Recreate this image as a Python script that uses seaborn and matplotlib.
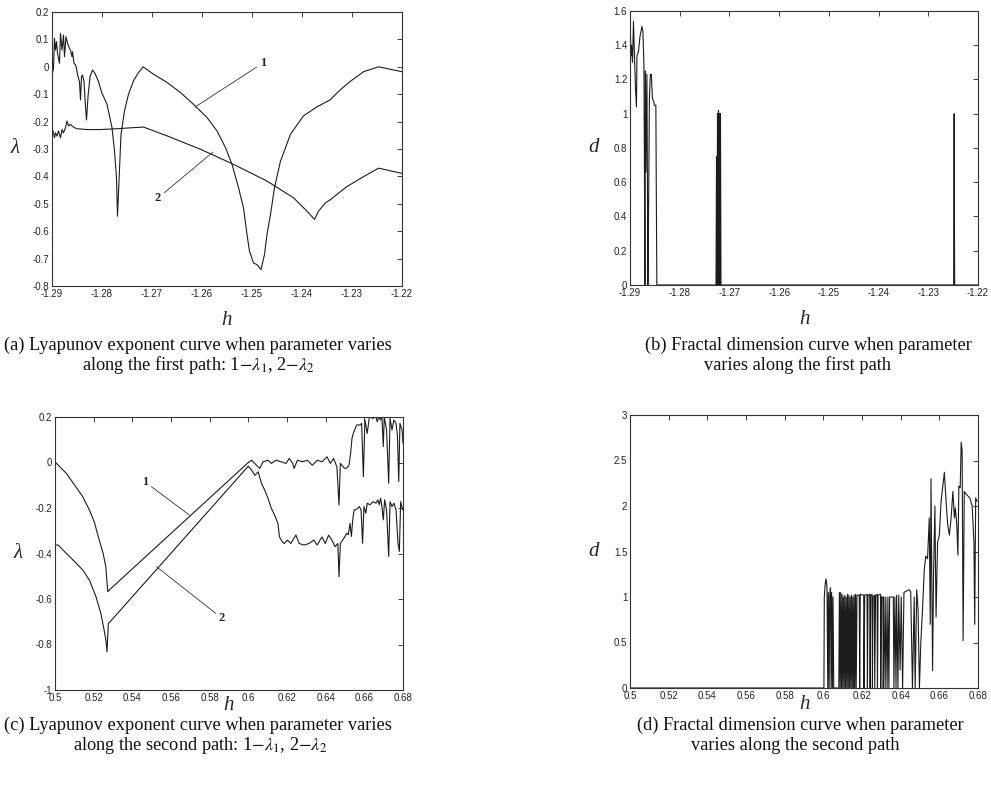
import numpy as np
import matplotlib
matplotlib.use("Agg")
import matplotlib.pyplot as plt
from matplotlib.ticker import FuncFormatter
import seaborn as sns

# (a) Lyapunov exponents, first path
a_h1 = [-1.2900, -1.2897, -1.2895, -1.2893, -1.2891, -1.2889, -1.2885, -1.2883, -1.2880, -1.2877,
        -1.2875, -1.2872, -1.2869, -1.2865, -1.2863, -1.2860, -1.2859, -1.2856, -1.2853, -1.2851,
        -1.2848, -1.2845, -1.2843, -1.2841, -1.2839, -1.2836, -1.2833, -1.2831, -1.2828, -1.2824,
        -1.2819, -1.2814, -1.2807, -1.2801, -1.2790, -1.2780, -1.2775, -1.2771, -1.2769, -1.2766,
        -1.2762, -1.2755, -1.2747, -1.2737, -1.2727, -1.2718, -1.2697, -1.2670, -1.2643, -1.2617,
        -1.2590, -1.2570, -1.2553, -1.2540, -1.2527, -1.2517, -1.2510, -1.2505, -1.2497, -1.2490,
        -1.2482, -1.2475, -1.2470, -1.2463, -1.2455, -1.2443, -1.2423, -1.2397, -1.2370, -1.2344,
        -1.2324, -1.2304, -1.2277, -1.2247, -1.2200]
a_lam1 = [-0.030, -0.006, 0.104, 0.061, 0.092, 0.049, 0.013, 0.122, 0.061, 0.116,
          0.037, 0.110, 0.086, 0.067, 0.061, 0.037, 0.055, 0.013, 0.007, -0.006,
          -0.036, -0.054, -0.121, -0.036, -0.030, -0.054, -0.146, -0.194, -0.109, -0.036,
          -0.012, -0.024, -0.054, -0.092, -0.137, -0.222, -0.307, -0.405, -0.545, -0.417,
          -0.246, -0.161, -0.100, -0.051, -0.021, 0.000, -0.027, -0.057, -0.094, -0.137,
          -0.185, -0.234, -0.295, -0.356, -0.441, -0.515, -0.612, -0.673, -0.716, -0.722,
          -0.740, -0.685, -0.612, -0.539, -0.441, -0.344, -0.246, -0.179, -0.146, -0.121,
          -0.085, -0.054, -0.018, 0.000, -0.018]
a_h2 = [-1.2900, -1.2898, -1.2895, -1.2893, -1.2890, -1.2887, -1.2883, -1.2880, -1.2877, -1.2873,
        -1.2870, -1.2867, -1.2863, -1.2860, -1.2855, -1.2850, -1.2830, -1.2803, -1.2770, -1.2737,
        -1.2717, -1.2670, -1.2603, -1.2537, -1.2470, -1.2417, -1.2390, -1.2375, -1.2367, -1.2353,
        -1.2344, -1.2311, -1.2277, -1.2247, -1.2200]
a_lam2 = [-0.240, -0.234, -0.259, -0.241, -0.253, -0.234, -0.259, -0.229, -0.241, -0.222,
          -0.198, -0.216, -0.210, -0.216, -0.222, -0.226, -0.229, -0.229, -0.226, -0.222,
          -0.220, -0.252, -0.301, -0.356, -0.417, -0.478, -0.527, -0.557, -0.527, -0.496,
          -0.486, -0.438, -0.401, -0.370, -0.389]

# (b) fractal dimension, first path
b_h = [-1.2900, -1.2898, -1.2897, -1.2895, -1.2893, -1.2891, -1.2889, -1.2887, -1.2886, -1.2883,
       -1.2880, -1.2876, -1.2874, -1.2872, -1.2871, -1.2870, -1.2869, -1.2868, -1.2866, -1.2865,
       -1.2864, -1.2863, -1.2861, -1.2859, -1.2857, -1.2855, -1.2852, -1.2851, -1.2848, -1.2847,
       -1.2846, -1.2727, -1.2726, -1.2725, -1.2724, -1.2723, -1.2722, -1.2721, -1.2720, -1.2719,
       -1.2718, -1.2717, -1.2249, -1.2248, -1.2247, -1.2200]
b_d = [1.56, 1.34, 1.40, 1.30, 1.54, 1.34, 1.15, 1.04, 1.34, 1.36,
       1.45, 1.51, 1.48, 1.29, 0.70, 0.00, 1.25, 0.66, 1.23, 0.62,
       0.00, 0.29, 1.09, 1.23, 1.23, 1.09, 1.07, 1.05, 1.05, 0.51,
       0.00, 0.00, 0.75, 0.00, 1.00, 0.00, 1.02, 0.00, 1.00, 0.00,
       1.00, 0.00, 0.00, 1.00, 0.00, 0.00]

# (c) Lyapunov exponents, second path
c_h1 = [0.5000, 0.5017, 0.5059, 0.5102, 0.5144, 0.5178, 0.5203, 0.5229, 0.5249, 0.5263,
        0.5268, 0.5273, 0.5280, 0.6000, 0.6017, 0.6042, 0.6059, 0.6076, 0.6102, 0.6119,
        0.6144, 0.6169, 0.6195, 0.6212, 0.6229, 0.6237, 0.6254, 0.6280, 0.6305, 0.6331,
        0.6356, 0.6381, 0.6407, 0.6424, 0.6441, 0.6458, 0.6469, 0.6476, 0.6497, 0.6509,
        0.6521, 0.6529, 0.6536, 0.6543, 0.6560, 0.6577, 0.6586, 0.6595, 0.6603, 0.6615,
        0.6626, 0.6643, 0.6660, 0.6667, 0.6674, 0.6684, 0.6691, 0.6698, 0.6703, 0.6715,
        0.6726, 0.6733, 0.6743, 0.6753, 0.6764, 0.6771, 0.6778, 0.6784, 0.6795, 0.6800]
c_lam1 = [0.003, -0.012, -0.048, -0.100, -0.151, -0.209, -0.261, -0.341, -0.400, -0.458,
          -0.517, -0.568, -0.561, 0.000, 0.010, -0.012, -0.026, 0.003, 0.010, -0.004,
          0.010, 0.003, -0.004, 0.018, -0.004, -0.026, 0.010, 0.003, 0.010, -0.012,
          0.010, 0.003, 0.025, -0.004, 0.018, -0.019, -0.187, -0.004, -0.025, -0.025,
          -0.011, 0.040, 0.106, 0.128, 0.165, 0.165, 0.172, -0.062, 0.187, 0.128,
          0.200, 0.194, 0.200, 0.179, 0.200, 0.187, 0.200, 0.070, 0.200, 0.143,
          -0.091, 0.194, 0.143, 0.187, 0.172, 0.121, -0.084, 0.172, 0.143, 0.084]
c_h2 = [0.5000, 0.5017, 0.5059, 0.5102, 0.5144, 0.5178, 0.5212, 0.5237, 0.5254, 0.5263,
        0.5269, 0.5276, 0.5285, 0.6000, 0.6017, 0.6034, 0.6051, 0.6068, 0.6085, 0.6102,
        0.6119, 0.6136, 0.6153, 0.6161, 0.6175, 0.6186, 0.6203, 0.6220, 0.6246, 0.6263,
        0.6288, 0.6314, 0.6339, 0.6356, 0.6381, 0.6398, 0.6415, 0.6432, 0.6449, 0.6463,
        0.6469, 0.6476, 0.6500, 0.6509, 0.6517, 0.6526, 0.6533, 0.6540, 0.6547, 0.6555,
        0.6566, 0.6574, 0.6583, 0.6591, 0.6598, 0.6608, 0.6615, 0.6629, 0.6646, 0.6660,
        0.6670, 0.6677, 0.6684, 0.6691, 0.6698, 0.6705, 0.6715, 0.6726, 0.6733, 0.6743,
        0.6753, 0.6764, 0.6774, 0.6781, 0.6788, 0.6798]
c_lam2 = [-0.363, -0.363, -0.400, -0.436, -0.473, -0.517, -0.590, -0.663, -0.736, -0.780,
          -0.832, -0.707, -0.700, -0.016, -0.034, -0.056, -0.041, -0.092, -0.122, -0.158,
          -0.202, -0.231, -0.268, -0.327, -0.348, -0.356, -0.341, -0.356, -0.319, -0.356,
          -0.363, -0.356, -0.341, -0.363, -0.327, -0.356, -0.319, -0.341, -0.370, -0.356,
          -0.502, -0.356, -0.325, -0.311, -0.318, -0.267, -0.325, -0.252, -0.208, -0.208,
          -0.201, -0.194, -0.208, -0.355, -0.194, -0.223, -0.179, -0.186, -0.172, -0.179,
          -0.164, -0.186, -0.157, -0.194, -0.252, -0.164, -0.208, -0.413, -0.172, -0.194,
          -0.179, -0.208, -0.355, -0.391, -0.172, -0.208]

# (d) fractal dimension, second path
d_h = [0.5000, 0.5002, 0.6003, 0.6005, 0.6010, 0.6014, 0.6019, 0.6023, 0.6026, 0.6030,
       0.6033, 0.6037, 0.6040, 0.6043, 0.6047, 0.6050, 0.6054, 0.6080, 0.6083, 0.6087,
       0.6090, 0.6094, 0.6097, 0.6101, 0.6104, 0.6108, 0.6111, 0.6115, 0.6118, 0.6122,
       0.6125, 0.6129, 0.6132, 0.6136, 0.6139, 0.6143, 0.6146, 0.6150, 0.6153, 0.6157,
       0.6160, 0.6163, 0.6167, 0.6170, 0.6174, 0.6186, 0.6188, 0.6191, 0.6209, 0.6210,
       0.6214, 0.6226, 0.6228, 0.6231, 0.6240, 0.6242, 0.6245, 0.6252, 0.6254, 0.6257,
       0.6264, 0.6266, 0.6270, 0.6278, 0.6280, 0.6283, 0.6296, 0.6297, 0.6301, 0.6308,
       0.6310, 0.6313, 0.6320, 0.6323, 0.6330, 0.6334, 0.6339, 0.6343, 0.6362, 0.6365,
       0.6370, 0.6376, 0.6379, 0.6386, 0.6390, 0.6397, 0.6403, 0.6410, 0.6417, 0.6443,
       0.6452, 0.6461, 0.6470, 0.6475, 0.6483, 0.6490, 0.6497, 0.6504, 0.6513, 0.6522,
       0.6530, 0.6539, 0.6548, 0.6553, 0.6557, 0.6562, 0.6565, 0.6570, 0.6577, 0.6583,
       0.6591, 0.6600, 0.6609, 0.6626, 0.6635, 0.6643, 0.6652, 0.6661, 0.6670, 0.6678,
       0.6683, 0.6690, 0.6696, 0.6701, 0.6708, 0.6713, 0.6718, 0.6723, 0.6729, 0.6739,
       0.6757, 0.6770, 0.6779, 0.6783, 0.6788, 0.6795]
d_d = [1.00, 0.00, 0.00, 1.00, 1.15, 1.20, 1.10, 0.00, 1.05, 0.00,
       1.00, 1.10, 0.00, 1.05, 0.00, 1.00, 0.00, 0.00, 1.05, 0.00,
       1.05, 0.00, 1.03, 0.00, 1.00, 0.00, 1.02, 0.00, 1.00, 0.00,
       1.03, 0.00, 1.02, 0.00, 1.00, 0.00, 1.02, 0.00, 1.00, 0.00,
       1.02, 0.00, 1.03, 0.00, 1.02, 1.02, 0.00, 1.03, 1.02, 0.00,
       1.02, 1.03, 0.00, 1.02, 1.03, 0.00, 1.02, 1.03, 0.00, 1.00,
       1.02, 0.00, 1.02, 1.03, 0.00, 1.02, 1.03, 0.00, 1.00, 1.00,
       0.00, 1.00, 0.00, 1.00, 0.00, 1.00, 0.00, 1.00, 1.00, 0.00,
       1.00, 0.00, 1.02, 0.00, 1.02, 0.20, 1.00, 0.00, 1.05, 1.08,
       1.06, 0.00, 1.00, 0.00, 1.08, 0.86, 0.00, 0.49, 0.86, 1.30,
       1.45, 1.42, 1.87, 0.70, 2.30, 1.00, 0.19, 1.23, 2.00, 0.78,
       1.60, 1.68, 2.05, 2.37, 2.05, 1.80, 1.68, 1.87, 2.16, 1.87,
       1.98, 1.80, 1.46, 2.22, 2.20, 2.70, 2.60, 0.52, 2.16, 2.13,
       2.09, 2.00, 1.60, 0.70, 2.09, 2.05]

# ticks
path1_ticks = [-1.29, -1.28, -1.27, -1.26, -1.25, -1.24, -1.23, -1.22]
path2_ticks = [0.5, 0.52, 0.54, 0.56, 0.58, 0.6, 0.62, 0.64, 0.66, 0.68]
a_yticks = [-0.8, -0.7, -0.6, -0.5, -0.4, -0.3, -0.2, -0.1, 0, 0.1, 0.2]
b_yticks = [0, 0.2, 0.4, 0.6, 0.8, 1, 1.2, 1.4, 1.6]
c_yticks = [-1, -0.8, -0.6, -0.4, -0.2, 0, 0.2]
d_yticks = [0, 0.5, 1, 1.5, 2, 2.5, 3]

sns.set_style("white")
plt.rcParams['font.family'] = ['Liberation Sans', 'DejaVu Sans']
plt.rcParams['mathtext.fontset'] = 'stix'
plt.rcParams['axes.unicode_minus'] = False

W, H = 991, 790
fig = plt.figure(figsize=(W / 100, H / 100), dpi=100)
fig.patch.set_facecolor("white")


def box(l, t, r, b):
    return [l / W, 1 - b / H, (r - l) / W, (b - t) / H]


def fmt(v, p):
    v = round(v, 4)
    if v == 0:
        return "0"
    return f"{v:g}"


serif_it = dict(family=['Liberation Serif', 'DejaVu Serif'], style='italic', fontsize=15)
line_col = "#1c1c1c"


def style_ax(ax, xt, yt, xlim, ylim, ylab, hy):
    ax.set_xlim(*xlim)
    ax.set_ylim(*ylim)
    ax.set_xticks(xt)
    ax.set_yticks(yt)
    ax.xaxis.set_major_formatter(FuncFormatter(fmt))
    ax.yaxis.set_major_formatter(FuncFormatter(fmt))
    ax.tick_params(direction="in", length=3.5, width=0.6, top=True, right=True,
                   labelsize=7, colors="#222222", pad=2)
    for s in ax.spines.values():
        s.set_linewidth(0.8)
        s.set_color("#333333")
    ax.set_xlabel("h", va="center", **serif_it)
    ax.set_ylabel(ylab, rotation=0, va="center", **serif_it)
    ax.yaxis.set_label_coords(-0.105, 0.5)
    ax.xaxis.set_label_coords(0.5, hy)
    ax.set_facecolor("white")


def draw(ax, x, y):
    sns.lineplot(x=np.array(x), y=np.array(y), ax=ax, color=line_col, lw=0.8,
                 estimator=None, sort=False)


ax_a = fig.add_axes(box(52, 12, 402, 286))
draw(ax_a, a_h1, a_lam1)
draw(ax_a, a_h2, a_lam2)
style_ax(ax_a, path1_ticks, a_yticks, (-1.29, -1.22), (-0.8, 0.2), "λ", -0.125)

ax_b = fig.add_axes(box(630, 11, 978, 285))
draw(ax_b, b_h, b_d)
style_ax(ax_b, path1_ticks, b_yticks, (-1.29, -1.22), (0, 1.6), "d", -0.125)

ax_c = fig.add_axes(box(55, 417, 403, 690))
draw(ax_c, c_h1, c_lam1)
draw(ax_c, c_h2, c_lam2)
style_ax(ax_c, path2_ticks, c_yticks, (0.5, 0.68), (-1, 0.2), "λ", -0.055)

ax_d = fig.add_axes(box(630, 415, 978, 688))
draw(ax_d, d_h, d_d)
style_ax(ax_d, path2_ticks, d_yticks, (0.5, 0.68), (0, 3), "d", -0.062)

num_font = dict(family=['Liberation Serif', 'DejaVu Serif'], fontweight='bold', fontsize=9)
arr = dict(arrowstyle='-', lw=0.6, color="#333333", shrinkA=0, shrinkB=0)
ax_a.annotate("1", xy=(-1.2614, -0.147), xytext=(-1.2478, 0.014), ha='center', va='center',
              arrowprops=arr, **num_font)
ax_a.annotate("2", xy=(-1.2578, -0.311), xytext=(-1.2688, -0.479), ha='center', va='center',
              arrowprops=arr, **num_font)
ax_c.annotate("1", xy=(0.5695, -0.231), xytext=(0.5465, -0.085), ha='center', va='center',
              arrowprops=arr, **num_font)
ax_c.annotate("2", xy=(0.5525, -0.458), xytext=(0.5864, -0.685), ha='center', va='center',
              arrowprops=arr, **num_font)

cap = dict(family=['Liberation Serif', 'DejaVu Serif'], fontsize=13.2, ha='center', va='center',
           color="#111111")
fig.text(198 / W, 1 - 345 / H, "(a) Lyapunov exponent curve when parameter varies", **cap)
fig.text(198 / W, 1 - 365 / H, r"along the first path: 1$-\lambda_1$, 2$-\lambda_2$", **cap)
fig.text(808 / W, 1 - 345 / H, "(b) Fractal dimension curve when parameter", **cap)
fig.text(797 / W, 1 - 365 / H, "varies along the first path", **cap)
fig.text(198 / W, 1 - 725 / H, "(c) Lyapunov exponent curve when parameter varies", **cap)
fig.text(200 / W, 1 - 745 / H, r"along the second path: 1$-\lambda_1$, 2$-\lambda_2$", **cap)
fig.text(800 / W, 1 - 725 / H, "(d) Fractal dimension curve when parameter", **cap)
fig.text(795 / W, 1 - 745 / H, "varies along the second path", **cap)

plt.savefig("out.png", dpi=100, facecolor="white")
plt.close()
